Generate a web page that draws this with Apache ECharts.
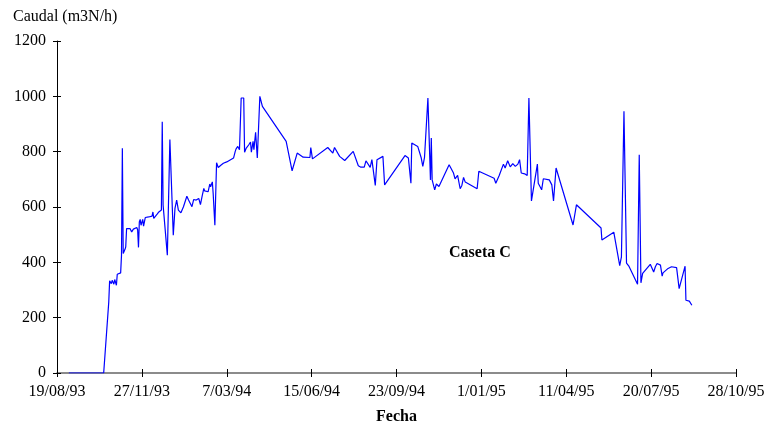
<!DOCTYPE html>
<html>
<head>
<meta charset="utf-8">
<script src="https://cdn.jsdelivr.net/npm/echarts@6/dist/echarts.min.js"></script>
<style>
html,body{margin:0;padding:0;background:#fff;}
#chart{width:771px;height:426px;}
</style>
</head>
<body>
<div id="chart"></div>
<script>
const fechas = [
'1993-09-02','1993-10-13','1993-10-19','1993-10-20','1993-10-22','1993-10-23','1993-10-25','1993-10-26','1993-10-28','1993-10-29',
'1993-11-02','1993-11-03','1993-11-04','1993-11-05','1993-11-07','1993-11-08','1993-11-09','1993-11-11','1993-11-13','1993-11-15',
'1993-11-17','1993-11-19','1993-11-21','1993-11-22','1993-11-23','1993-11-24','1993-11-25','1993-11-26','1993-11-28','1993-11-29',
'1993-12-01','1993-12-05','1993-12-09','1993-12-10','1993-12-11','1993-12-15','1993-12-17','1993-12-20','1993-12-21','1993-12-22',
'1993-12-27','1993-12-30','1994-01-03','1994-01-05','1994-01-07','1994-01-09','1994-01-12','1994-01-15','1994-01-19','1994-01-21',
'1994-01-25','1994-01-27','1994-01-30','1994-02-02','1994-02-04','1994-02-06','1994-02-08','1994-02-09','1994-02-13','1994-02-15',
'1994-02-16','1994-02-18','1994-02-19','1994-02-21','1994-02-23','1994-02-25','1994-02-28','1994-03-03','1994-03-07','1994-03-11',
'1994-03-15','1994-03-17','1994-03-18','1994-03-20','1994-03-22','1994-03-23','1994-03-24','1994-03-27','1994-03-28','1994-03-30',
'1994-04-02','1994-04-04','1994-04-05','1994-04-07','1994-04-08','1994-04-10','1994-04-12','1994-04-15','1994-04-18','1994-05-16',
'1994-05-23','1994-05-29','1994-06-05','1994-06-13','1994-06-14','1994-06-16','1994-07-04','1994-07-10','1994-07-12','1994-07-18',
'1994-07-24','1994-08-03','1994-08-09','1994-08-12','1994-08-16','1994-08-18','1994-08-23','1994-08-25','1994-08-29','1994-08-31',
'1994-09-07','1994-09-09','1994-10-03','1994-10-07','1994-10-10','1994-10-11','1994-10-18','1994-10-22','1994-10-24','1994-10-26',
'1994-10-30','1994-11-02','1994-11-03','1994-11-04','1994-11-07','1994-11-09','1994-11-12','1994-11-14','1994-11-24','1994-11-29',
'1994-12-01','1994-12-04','1994-12-07','1994-12-09','1994-12-11','1994-12-13','1994-12-27','1994-12-29','1995-01-16','1995-01-18',
'1995-01-22','1995-01-27','1995-01-29','1995-02-01','1995-02-04','1995-02-07','1995-02-10','1995-02-13','1995-02-15','1995-02-17',
'1995-02-21','1995-02-24','1995-02-26','1995-03-01','1995-03-08','1995-03-09','1995-03-13','1995-03-15','1995-03-22','1995-03-25',
'1995-03-27','1995-03-30','1995-04-19','1995-04-23','1995-05-22','1995-05-23','1995-06-06','1995-06-13','1995-06-15','1995-06-16',
'1995-06-18','1995-06-21','1995-06-24','1995-07-04','1995-07-06','1995-07-08','1995-07-10','1995-07-19','1995-07-23','1995-07-25',
'1995-07-27','1995-07-31','1995-08-02','1995-08-03','1995-08-09','1995-08-13','1995-08-19','1995-08-22','1995-08-29','1995-08-30',
'1995-09-03','1995-09-06'
];
const caudal = [
0,0,257,333,323,335,321,338,317,357,
362,426,812,432,446,456,522,516,522,510,
520,516,526,518,454,546,555,534,555,531,
562,564,567,582,559,574,582,589,908,607,
426,844,498,595,625,589,579,601,639,625,
601,627,625,631,609,639,667,658,655,683,
673,691,649,534,760,743,751,758,763,770,
777,801,810,819,807,813,994,994,798,813,
825,835,798,837,807,870,777,1000,964,837,
731,795,780,779,815,774,815,795,815,783,
768,801,749,744,744,767,743,771,678,771,
783,680,786,777,686,831,819,779,747,779,
994,698,849,698,662,683,674,680,753,724,
702,714,666,678,707,690,666,729,704,686,
714,755,741,767,745,757,747,755,771,723,
720,714,994,622,755,686,662,702,698,680,
622,741,535,608,524,481,509,388,420,420,
946,397,385,321,789,326,360,393,365,384,
396,390,350,362,378,384,381,305,386,263,
260,245
];
const fechaInicio = '1993-08-19';   // primera marca del eje X
const fechaFin = '1995-10-28';      // última marca del eje X
const pasoDias = 100;               // separación entre marcas
const yMin = 0, yMax = 1200, yPaso = 200;
const tituloY = 'Caudal (m3N/h)';
const tituloX = 'Fecha';
const etiqueta = 'Caseta C';

const DAY = 86400000;
function toUTC(s){ const p = s.split('-').map(Number); return Date.UTC(p[0], p[1]-1, p[2]); }
const base = toUTC(fechaInicio);
const xMax = (toUTC(fechaFin) - base) / DAY;
function pad(n){ return (n < 10 ? '0' : '') + n; }
function fmt(v){
  const d = new Date(base + Math.round(v) * DAY);
  return d.getUTCDate() + '/' + pad(d.getUTCMonth()+1) + '/' + pad(d.getUTCFullYear() % 100);
}
const serie = fechas.map((f, i) => [(toUTC(f) - base) / DAY, caudal[i]]);

const FONT = 'Liberation Serif';
const gridPos = {left: 57, right: 35, top: 41, bottom: 53, containLabel: false};

const chart = echarts.init(document.getElementById('chart'), null, {renderer: 'canvas'});
chart.setOption({
  animation: false,
  backgroundColor: '#fff',
  grid: [Object.assign({}, gridPos), Object.assign({}, gridPos)],
  xAxis: [{
    type: 'value', gridIndex: 0, min: 0, max: xMax, interval: pasoDias,
    axisLine: {show: true, lineStyle: {color: '#666', width: 1.5}},
    axisTick: {show: true, length: 4, lineStyle: {color: '#000', width: 1}},
    axisLabel: {formatter: fmt, color: '#000', fontFamily: FONT, fontSize: 16, margin: 11, showMinLabel: true, showMaxLabel: true, hideOverlap: false},
    splitLine: {show: false}
  }, {
    type: 'value', gridIndex: 1, min: 0, max: xMax, interval: pasoDias,
    axisLine: {show: false},
    axisTick: {show: true, inside: true, length: 4, lineStyle: {color: '#000', width: 1}},
    axisLabel: {show: false}, splitLine: {show: false}
  }],
  yAxis: [{
    type: 'value', gridIndex: 0, min: yMin, max: yMax, interval: yPaso,
    axisLine: {show: true, lineStyle: {color: '#000', width: 1}},
    axisTick: {show: true, length: 4, lineStyle: {color: '#000', width: 1}},
    axisLabel: {formatter: v => String(v), color: '#000', fontFamily: FONT, fontSize: 16, margin: 11},
    splitLine: {show: false}
  }, {
    type: 'value', gridIndex: 1, min: yMin, max: yMax, interval: yPaso,
    axisLine: {show: false},
    axisTick: {show: true, inside: true, length: 4, lineStyle: {color: '#000', width: 1}},
    axisLabel: {show: false}, splitLine: {show: false}
  }],
  graphic: [
    {type: 'text', left: 13, top: 9, style: {text: tituloY, font: '16px "' + FONT + '"', fill: '#000'}},
    {type: 'text', left: 376, top: 409, style: {text: tituloX, font: 'bold 16px "' + FONT + '"', fill: '#000'}},
    {type: 'text', left: 449, top: 245, style: {text: etiqueta, font: 'bold 16px "' + FONT + '"', fill: '#000'}}
  ],
  series: [{
    type: 'line', xAxisIndex: 0, yAxisIndex: 0, data: serie,
    showSymbol: false, symbol: 'none', smooth: false,
    lineStyle: {color: '#0000ff', width: 1.2}, z: 3
  }]
});
</script>
</body>
</html>
